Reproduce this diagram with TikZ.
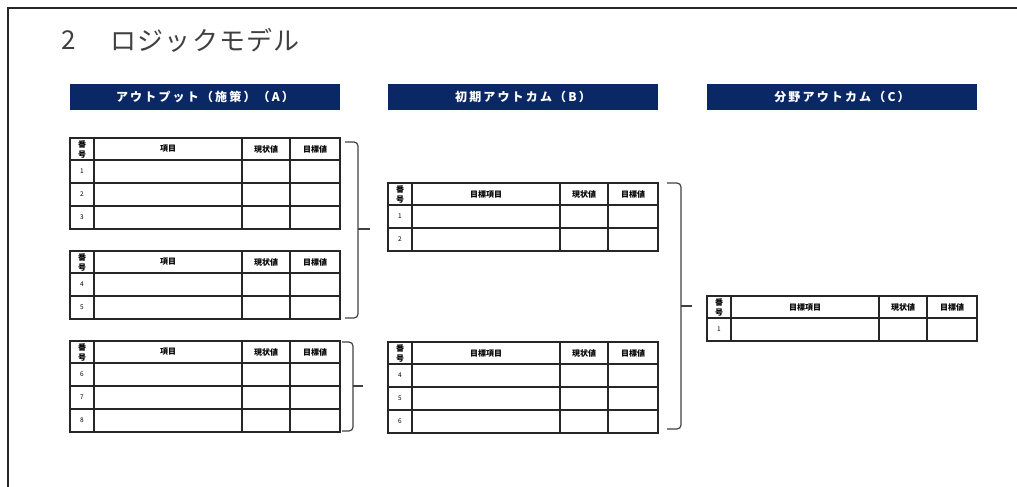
\documentclass[tikz,border=0pt]{standalone}
\usepackage{fontspec}
\setmainfont{Noto Sans CJK JP}
\definecolor{navy}{HTML}{0B2866}
\tikzset{
 grid/.style={line width=1.1pt, draw=black!85},
 outer/.style={line width=1.5pt, draw=black!85},
 bar/.style={fill=navy, draw=none, minimum width=270pt, minimum height=26pt, inner sep=0pt, text=white,
   font=\fontsize{12}{12}\selectfont\bfseries\addfontfeature{LetterSpace=18}},
 hd/.style={font=\fontsize{8}{8}\selectfont\bfseries, inner sep=0pt},
 num/.style={font=\fontsize{6.5}{6.5}\selectfont, inner sep=0pt},
 brk/.style={line width=1.2pt, draw=black!75, rounded corners=4pt},
 ttl/.style={anchor=west, inner sep=0pt, text=black!75, font=\fontsize{26}{26}\selectfont\addfontfeature{LetterSpace=5}},
}
\newcommand\logictable[5]{%
 \begin{scope}[shift={(#2,#3)}]
  \foreach \n [count=\i] in {#5} {
    \draw[grid] (0,{22+23*(\i-1)}) -- (270,{22+23*(\i-1)});
    \node[num] (#1-r\i) at (12,{22+23*\i-11.5}) {\n};
    \xdef\lastrow{\i}
  }
  \pgfmathsetmacro\tblh{22+23*\lastrow}
  \draw[grid] (24,0) -- (24,\tblh) (172,0) -- (172,\tblh) (220,0) -- (220,\tblh);
  \draw[outer] (0,0) rectangle (270,\tblh);
  \node[hd] (#1-no1) at (12,6) {番};
  \node[hd] (#1-no2) at (12,16.5) {号};
  \node[hd] (#1-item) at (98,11) {#4};
  \node[hd] (#1-cur) at (196,11) {現状値};
  \node[hd] (#1-tgt) at (245,11) {目標値};
 \end{scope}}
\begin{document}
\begin{tikzpicture}[x=1pt,y=-1pt]
\useasboundingbox (0,0) rectangle (1017,487);
\draw[line width=2pt, draw=black!85] (8,487) -- (8,8) -- (1017,8);
\node[ttl] (titlenum) at (61,40) {2};
\node[ttl] (title) at (110,40) {ロジックモデル};
\node[bar] (barA) at (205,96.5) {アウトプット（施策）（A）};
\node[bar] (barB) at (523,96.5) {初期アウトカム（B）};
\node[bar] (barC) at (842,96.5) {分野アウトカム（C）};
\logictable{A1}{70}{138}{項目}{1,2,3}
\logictable{A2}{70}{251}{項目}{4,5}
\logictable{A3}{70}{341}{項目}{6,7,8}
\logictable{B1}{388}{183}{目標項目}{1,2}
\logictable{B2}{388}{342}{目標項目}{4,5,6}
\logictable{C1}{707}{296}{目標項目}{1}
\draw[brk] (345,142) -- (358,142) -- (358,318) -- (345,318);
\draw[brk] (358,229) -- (370,229);
\draw[brk] (342,342) -- (353,342) -- (353,431) -- (342,431);
\draw[brk] (353,386) -- (363,386);
\draw[brk] (667,183) -- (681,183) -- (681,429) -- (667,429);
\draw[brk] (681,306) -- (692,306);
\end{tikzpicture}
\end{document}
